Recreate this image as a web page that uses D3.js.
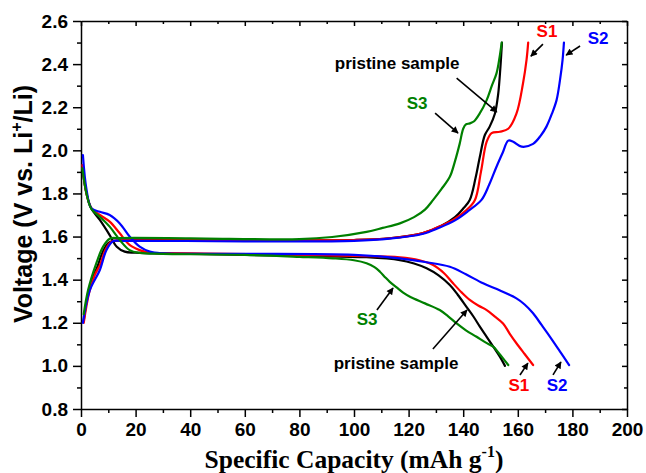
<!DOCTYPE html>
<html>
<head>
<meta charset="utf-8">
<script src="https://cdn.jsdelivr.net/npm/d3@7"></script>
<style>
  html, body { margin: 0; padding: 0; background: #fff; }
  svg { display: block; }
  .tick text { font-family: Arial, "Liberation Sans", sans-serif; font-weight: bold; font-size: 19px; fill: #000; }
  .tick line, .domain { stroke: #000; stroke-width: 1.5; }
</style>
</head>
<body>
<svg id="chart" width="646" height="473"></svg>
<script>
// Charge (upper) and discharge (lower) profiles: [capacity mAh/g, voltage V]
const pristineCharge = [[1,1.21],[2.5,1.33],[4,1.40],[6,1.46],[8,1.53],[10,1.57],[12,1.58],[20,1.583],[60,1.582],[100,1.584],[113,1.592],[125,1.615],[132,1.65],[137,1.69],[140,1.73],[142.4,1.77],[144.5,1.87],[146.1,1.97],[147.9,2.07],[149.7,2.11],[151.6,2.17],[152.8,2.26],[153.6,2.38],[154.2,2.5]];
const s1Charge = [[1,1.2],[3,1.34],[5,1.42],[7,1.47],[9,1.54],[11,1.575],[13,1.582],[20,1.582],[60,1.582],[100,1.584],[113,1.592],[125,1.615],[131,1.645],[136.3,1.677],[141.2,1.723],[144.3,1.77],[146.5,1.9],[148.6,2.04],[150.4,2.08],[153.4,2.086],[156.5,2.10],[159.5,2.17],[161.9,2.31],[163.2,2.42],[163.8,2.5]];
const s2Charge = [[0.7,1.2],[3.2,1.35],[6.9,1.445],[9.3,1.537],[11.7,1.578],[15,1.58],[60,1.578],[100,1.58],[113,1.59],[125,1.612],[131,1.64],[137,1.675],[142,1.72],[146.7,1.77],[149.5,1.84],[152.2,1.924],[154.5,1.99],[156.5,2.045],[158.3,2.04],[161.4,2.017],[165.6,2.03],[168.5,2.07],[170.5,2.11],[172.5,2.17],[174.2,2.233],[175.5,2.33],[176.4,2.42],[176.9,2.5]];
const s3Charge = [[1,1.24],[2.6,1.352],[5.6,1.476],[8.1,1.553],[10.5,1.59],[14,1.593],[40,1.592],[80,1.588],[92,1.598],[104.6,1.622],[110.5,1.64],[116.8,1.661],[122,1.69],[126,1.725],[129,1.77],[132,1.82],[135.1,1.877],[137,1.95],[138.7,2.03],[140,2.1],[141,2.12],[142.4,2.125],[144,2.135],[146,2.17],[148.6,2.233],[150.5,2.3],[152.2,2.357],[153.3,2.43],[154.1,2.5]];

const pristineDischarge = [[0.5,1.92],[2,1.8],[3.8,1.73],[6.9,1.677],[10.5,1.607],[13.1,1.553],[16,1.53],[20,1.525],[40,1.52],[80,1.51],[104.6,1.504],[116.8,1.491],[122,1.475],[126.6,1.453],[131,1.42],[135.1,1.375],[138,1.33],[141.2,1.274],[143.8,1.228],[146.1,1.182],[148.6,1.135],[151,1.089],[153.3,1.045],[155.3,1.0]];
const s1Discharge = [[0.5,1.932],[2,1.8],[3.8,1.731],[6.9,1.70],[10.5,1.669],[14.2,1.615],[17.8,1.561],[21.5,1.537],[25,1.525],[40,1.522],[80,1.515],[100,1.51],[116.8,1.504],[124,1.49],[129,1.468],[133,1.43],[136.3,1.383],[139.5,1.34],[142.4,1.306],[145.5,1.28],[148.6,1.259],[151.5,1.23],[154.6,1.197],[157,1.15],[159.5,1.105],[162.5,1.055],[165.6,1.004]];
const s2Discharge = [[0.7,1.978],[2,1.82],[3.8,1.731],[6.9,1.715],[10.5,1.70],[14.2,1.661],[17.8,1.60],[21.5,1.553],[25.2,1.53],[30,1.522],[60,1.52],[100,1.515],[116.8,1.499],[126,1.482],[135.1,1.46],[141,1.425],[147.3,1.383],[153.5,1.35],[159.5,1.313],[162.5,1.285],[165.6,1.244],[168.7,1.19],[171.8,1.135],[175.3,1.07],[178.8,1.004]];
const s3Discharge = [[0.5,1.916],[2,1.8],[3.8,1.728],[6.9,1.692],[10.5,1.646],[14.2,1.584],[17.8,1.537],[21.5,1.524],[30,1.52],[60,1.515],[80,1.506],[92.3,1.499],[100,1.49],[104.6,1.476],[107.5,1.458],[109.5,1.437],[111.5,1.41],[113.1,1.39],[115.6,1.364],[118,1.34],[120.5,1.321],[126,1.29],[131.4,1.259],[134.5,1.23],[137.6,1.197],[141,1.165],[144.9,1.135],[148,1.11],[151,1.089],[153,1.06],[154.6,1.035],[156.5,1.004]];

const xTicks = [0, 20, 40, 60, 80, 100, 120, 140, 160, 180, 200];
const yTicks = [0.8, 1.0, 1.2, 1.4, 1.6, 1.8, 2.0, 2.2, 2.4, 2.6];

const series = [
  { name: "pristine", color: "#000000", charge: pristineCharge, discharge: pristineDischarge },
  { name: "S1", color: "#ff0000", charge: s1Charge, discharge: s1Discharge },
  { name: "S2", color: "#0000ff", charge: s2Charge, discharge: s2Discharge },
  { name: "S3", color: "#008000", charge: s3Charge, discharge: s3Discharge }
];

// Annotation labels (centre) and their arrows (tail -> head), in data coordinates
const labels = [
  { text: "pristine sample", color: "#000", at: [115.8, 2.405], arrow: [[137.6, 2.335], [152.3, 2.178]] },
  { text: "S3", color: "#008000", at: [123.1, 2.219], arrow: [[129.7, 2.173], [138.1, 2.080]] },
  { text: "S1", color: "#ff0000", at: [170.7, 2.549], arrow: [[169.2, 2.493], [164.8, 2.437]] },
  { text: "S2", color: "#0000ff", at: [189.4, 2.521], arrow: [[182.8, 2.484], [177.7, 2.442]] },
  { text: "S3", color: "#008000", at: [104.8, 1.217], arrow: [[108.4, 1.259], [114.3, 1.361]] },
  { text: "pristine sample", color: "#000", at: [115.4, 1.009], arrow: [[128.9, 1.078], [141.4, 1.259]] },
  { text: "S1", color: "#ff0000", at: [160.4, 0.911], arrow: [[160.8, 0.958], [163.7, 1.013]] },
  { text: "S2", color: "#0000ff", at: [174.4, 0.911], arrow: [[172.9, 0.958], [175.8, 1.018]] }
];

const W = 646, H = 473;
const margin = { left: 81, right: 19, top: 21, bottom: 64 };
const svg = d3.select("#chart");

const x = d3.scaleLinear().domain([0, 200]).range([margin.left, W - margin.right]);
const y = d3.scaleLinear().domain([0.8, 2.6]).range([H - margin.bottom, margin.top]);

const defs = svg.append("defs");
defs.append("marker")
  .attr("id", "arrowhead")
  .attr("viewBox", "0 0 10 10")
  .attr("refX", 9).attr("refY", 5)
  .attr("markerWidth", 8).attr("markerHeight", 7)
  .attr("markerUnits", "userSpaceOnUse")
  .attr("orient", "auto")
  .append("path").attr("d", "M0,0 L10,5 L0,10 Z").attr("fill", "#000");

// Axes: outward labelled ticks on bottom/left, inward mirrored ticks on top/right
const xMinor = d3.range(10, 200, 20);
const yMinor = d3.range(0, 9).map(i => +(0.9 + i * 0.2).toFixed(1));

const gx = svg.append("g").attr("transform", `translate(0,${y(0.8)})`)
  .call(d3.axisBottom(x).tickValues(xTicks).tickFormat(d3.format("d")).tickSize(8).tickSizeOuter(0).tickPadding(6));
svg.append("g").attr("transform", `translate(0,${y(0.8)})`)
  .call(d3.axisBottom(x).tickValues(xMinor).tickFormat("").tickSize(4).tickSizeOuter(0))
  .select(".domain").remove();

svg.append("g").attr("transform", `translate(${x(0)},0)`)
  .call(d3.axisLeft(y).tickValues(yTicks).tickFormat(d3.format(".1f")).tickSize(8).tickSizeOuter(0).tickPadding(5));
svg.append("g").attr("transform", `translate(${x(0)},0)`)
  .call(d3.axisLeft(y).tickValues(yMinor).tickFormat("").tickSize(4).tickSizeOuter(0))
  .select(".domain").remove();

svg.append("g").attr("transform", `translate(0,${y(2.6)})`)
  .call(d3.axisBottom(x).tickValues(xTicks).tickFormat("").tickSize(5).tickSizeOuter(0));
svg.append("g").attr("transform", `translate(0,${y(2.6)})`)
  .call(d3.axisBottom(x).tickValues(xMinor).tickFormat("").tickSize(3).tickSizeOuter(0))
  .select(".domain").remove();

svg.append("g").attr("transform", `translate(${x(200)},0)`)
  .call(d3.axisLeft(y).tickValues(yTicks).tickFormat("").tickSize(5).tickSizeOuter(0));
svg.append("g").attr("transform", `translate(${x(200)},0)`)
  .call(d3.axisLeft(y).tickValues(yMinor).tickFormat("").tickSize(3).tickSizeOuter(0))
  .select(".domain").remove();

// Curves
const line = d3.line().x(d => x(d[0])).y(d => y(d[1])).curve(d3.curveCatmullRom.alpha(0.5));
const plot = svg.append("g");
for (const s of series) {
  for (const branch of [s.charge, s.discharge]) {
    plot.append("path")
      .datum(branch)
      .attr("d", line)
      .attr("fill", "none")
      .attr("stroke", s.color)
      .attr("stroke-width", 2.2)
      .attr("stroke-linejoin", "round")
      .attr("stroke-linecap", "round");
  }
}

// Annotations
const ann = svg.append("g");
for (const l of labels) {
  ann.append("line")
    .attr("x1", x(l.arrow[0][0])).attr("y1", y(l.arrow[0][1]))
    .attr("x2", x(l.arrow[1][0])).attr("y2", y(l.arrow[1][1]))
    .attr("stroke", "#000").attr("stroke-width", 1.6)
    .attr("marker-end", "url(#arrowhead)");
  ann.append("text")
    .attr("x", x(l.at[0])).attr("y", y(l.at[1]))
    .attr("text-anchor", "middle").attr("dominant-baseline", "central")
    .attr("font-family", "Arial, 'Liberation Sans', sans-serif")
    .attr("font-weight", "bold").attr("font-size", 17)
    .attr("fill", l.color)
    .text(l.text);
}

// Axis titles
const xt = svg.append("text")
  .attr("x", 354).attr("y", 468)
  .attr("text-anchor", "middle")
  .attr("font-family", "'Times New Roman', 'Liberation Serif', serif")
  .attr("font-weight", "bold").attr("font-size", 25.5)
  .text("Specific Capacity (mAh g");
xt.append("tspan").attr("dy", -11).attr("font-size", 16).text("-1");
xt.append("tspan").attr("dy", 11).text(")");

const yt = svg.append("text")
  .attr("transform", "translate(32,204) rotate(-90)")
  .attr("text-anchor", "middle")
  .attr("font-family", "Arial, 'Liberation Sans', sans-serif")
  .attr("font-weight", "bold").attr("font-size", 25)
  .text("Voltage (V vs. Li");
yt.append("tspan").attr("dy", -10).attr("font-size", 16).text("+");
yt.append("tspan").attr("dy", 10).text("/Li)");
</script>
</body>
</html>
